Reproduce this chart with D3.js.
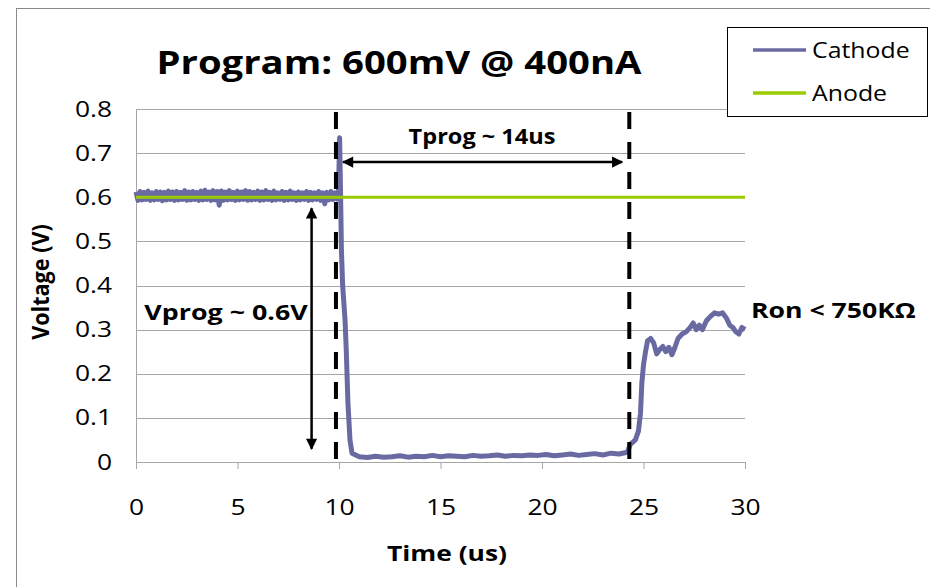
<!DOCTYPE html>
<html><head><meta charset="utf-8">
<script src="https://cdn.jsdelivr.net/npm/d3@7"></script>
<style>body{margin:0;background:#fff}svg{display:block}text{font-family:"Open Sans",Lato,sans-serif}</style>
</head><body><svg id="c" width="930" height="587"></svg>
<script>
const titleText = "Program: 600mV @ 400nA";
const xTicks = [0, 5, 10, 15, 20, 25, 30];
const yTicks = [0, 0.1, 0.2, 0.3, 0.4, 0.5, 0.6, 0.7, 0.8];
const seriesNames = ["Cathode", "Anode"];
const seriesColors = ["#6a6aa3", "#99cc00"];

const cathodeTime = [
 0.0,0.1,0.2,0.3,0.4,0.5,0.6,0.7,0.8,0.9,
 1.0,1.1,1.2,1.3,1.4,1.5,1.6,1.7,1.8,1.9,
 2.0,2.1,2.2,2.3,2.4,2.5,2.6,2.7,2.8,2.9,
 3.0,3.1,3.2,3.3,3.4,3.5,3.6,3.7,3.8,3.9,
 4.0,4.1,4.2,4.3,4.4,4.5,4.6,4.7,4.8,4.9,
 5.0,5.1,5.2,5.3,5.4,5.5,5.6,5.7,5.8,5.9,
 6.0,6.1,6.2,6.3,6.4,6.5,6.6,6.7,6.8,6.9,
 7.0,7.1,7.2,7.3,7.4,7.5,7.6,7.7,7.8,7.9,
 8.0,8.1,8.2,8.3,8.4,8.5,8.6,8.7,8.8,8.9,
 9.0,9.1,9.2,9.3,9.4,9.5,9.6,9.7,9.8,9.9,
 9.97,10.03,10.08,10.12,10.18,10.3,10.36,10.44,10.54,10.64,
 11.0,11.4,11.8,12.2,12.6,13.0,13.4,13.8,14.2,14.6,
 15.0,15.4,15.8,16.2,16.6,17.0,17.4,17.8,18.2,18.6,
 19.0,19.4,19.8,20.2,20.6,21.0,21.4,21.8,22.2,22.6,
 23.0,23.4,23.8,24.2,
 24.35,24.6,24.75,24.85,24.92,25.0,25.1,25.2,25.35,25.5,
 25.65,25.8,25.95,26.1,26.25,26.4,26.55,26.7,26.9,27.1,
 27.3,27.45,27.6,27.75,27.9,28.1,28.3,28.5,28.7,28.9,
 29.1,29.25,29.4,29.55,29.7,29.85,30.0
];
const cathodeVolt = [
 0.612,0.593,0.613,0.594,0.611,0.595,0.614,0.593,0.610,0.594,
 0.613,0.595,0.612,0.592,0.611,0.594,0.614,0.595,0.612,0.593,
 0.613,0.594,0.611,0.595,0.615,0.593,0.612,0.594,0.613,0.595,
 0.611,0.593,0.614,0.594,0.616,0.595,0.612,0.593,0.615,0.594,
 0.613,0.582,0.614,0.593,0.612,0.594,0.615,0.595,0.611,0.593,
 0.614,0.594,0.612,0.595,0.615,0.593,0.613,0.594,0.611,0.595,
 0.614,0.593,0.612,0.594,0.615,0.595,0.611,0.593,0.614,0.594,
 0.610,0.595,0.613,0.593,0.611,0.594,0.614,0.595,0.610,0.593,
 0.612,0.594,0.610,0.595,0.613,0.593,0.611,0.594,0.610,0.595,
 0.613,0.593,0.610,0.585,0.611,0.594,0.613,0.595,0.610,0.596,
 0.598,0.735,0.600,0.480,0.400,0.320,0.250,0.134,0.050,0.020,
 0.012,0.010,0.013,0.011,0.012,0.014,0.011,0.013,0.012,0.015,
 0.012,0.014,0.013,0.012,0.015,0.013,0.014,0.016,0.013,0.015,
 0.014,0.016,0.015,0.017,0.014,0.016,0.018,0.015,0.017,0.019,
 0.016,0.020,0.018,0.022,
 0.040,0.050,0.070,0.110,0.180,0.220,0.250,0.275,0.280,0.270,
 0.245,0.255,0.262,0.250,0.260,0.243,0.260,0.280,0.290,0.295,
 0.305,0.315,0.300,0.310,0.300,0.320,0.330,0.338,0.335,0.338,
 0.325,0.310,0.305,0.295,0.290,0.305,0.300
];
const anodeTime = [0, 30];
const anodeVolt = [0.6, 0.6];

const svg = d3.select("#c");
const x = d3.scaleLinear().domain([0, 30]).range([136, 745]);
const y = d3.scaleLinear().domain([0, 0.8]).range([462, 109]);
const SX = 1.2;

function addText(px, py, str, size, bold, anchor, sx) {
  return svg.append("text").attr("transform", `translate(${px},${py}) scale(${sx},1)`)
    .attr("text-anchor", anchor || "start").attr("font-size", size)
    .attr("font-weight", bold ? "bold" : "normal").attr("fill", "#000").text(str);
}

// outer frame
svg.append("rect").attr("x", 16.5).attr("y", 8.5).attr("width", 1000).attr("height", 1000)
  .attr("fill", "none").attr("stroke", "#898989").attr("stroke-width", 1);

// gridlines
svg.append("g").selectAll("line").data(yTicks.filter(d => d > 0)).join("line")
  .attr("x1", x(0)).attr("x2", x(30)).attr("y1", d => Math.round(y(d)) + 0.5).attr("y2", d => Math.round(y(d)) + 0.5)
  .attr("stroke", "#a6a6a6").attr("stroke-width", 1);

// y axis
const yAxis = svg.append("g").attr("transform", `translate(${x(0)},0)`)
  .call(d3.axisLeft(y).tickValues(yTicks).tickSize(0).tickPadding(24).tickFormat(d => d === 0 ? "0" : d3.format(".1f")(d)));
yAxis.select(".domain").attr("stroke", "#a6a6a6");
yAxis.selectAll("text").attr("font-size", 22).attr("fill", "#000")
  .attr("x", -24 / SX).attr("transform", `scale(${SX},1)`);

// x axis
const xAxis = svg.append("g").attr("transform", `translate(0,${y(0)})`)
  .call(d3.axisBottom(x).tickValues(xTicks).tickSize(7).tickPadding(30).tickFormat(d3.format("d")));
xAxis.select(".domain").attr("stroke", "#a6a6a6");
xAxis.selectAll(".tick line").attr("stroke", "#a6a6a6");
xAxis.selectAll("text").attr("font-size", 22).attr("fill", "#000").attr("transform", `scale(${SX},1)`);

// series
const cathode = cathodeTime.map((t, i) => [t, cathodeVolt[i]]);
const anode = anodeTime.map((t, i) => [t, anodeVolt[i]]);
const line = d3.line().x(d => x(d[0])).y(d => y(d[1]));
svg.append("path").datum(cathode).attr("d", line).attr("fill", "none")
  .attr("stroke", seriesColors[0]).attr("stroke-width", 5).attr("stroke-linejoin", "round");
svg.append("path").datum(anode).attr("d", line).attr("fill", "none")
  .attr("stroke", seriesColors[1]).attr("stroke-width", 3);

// dashed markers
const dashTimes = [9.85, 24.3];
svg.append("g").selectAll("line").data(dashTimes).join("line")
  .attr("x1", d => x(d)).attr("x2", d => x(d)).attr("y1", 112).attr("y2", y(0))
  .attr("stroke", "#000").attr("stroke-width", 4).attr("stroke-dasharray", "17,13");

// arrows
const defs = svg.append("defs");
defs.append("marker").attr("id", "ah").attr("viewBox", "0 0 10 10").attr("refX", 9).attr("refY", 5)
  .attr("markerWidth", 5.5).attr("markerHeight", 4.5).attr("markerUnits", "strokeWidth").attr("orient", "auto-start-reverse")
  .append("path").attr("d", "M0,0 L10,5 L0,10 z").attr("fill", "#000");
svg.append("line").attr("x1", x(10.2)).attr("x2", x(23.95)).attr("y1", 162).attr("y2", 162)
  .attr("stroke", "#000").attr("stroke-width", 2.5).attr("marker-start", "url(#ah)").attr("marker-end", "url(#ah)");
svg.append("line").attr("x1", x(8.65)).attr("x2", x(8.65)).attr("y1", y(0.575)).attr("y2", y(0.03))
  .attr("stroke", "#000").attr("stroke-width", 2.5).attr("marker-start", "url(#ah)").attr("marker-end", "url(#ah)");

// texts
addText(399, 74, titleText, 33, true, "middle", 1.16);
addText(447, 561, "Time (us)", 22, true, "middle", SX);
svg.append("text").attr("transform", "translate(49,282) rotate(-90) scale(1.08,1.2)").attr("text-anchor", "middle")
  .attr("font-size", 20).attr("font-weight", "bold").text("Voltage (V)");
addText(482, 144, "Tprog ~ 14us", 22, true, "middle", 1.07);
addText(226, 320, "Vprog ~ 0.6V", 22, true, "middle", 1.22);
addText(751, 318, "Ron < 750KΩ", 22, true, "start", 1.21);

// legend
const lg = svg.append("g");
lg.append("rect").attr("x", 727.5).attr("y", 27.5).attr("width", 200).attr("height", 89)
  .attr("fill", "#fff").attr("stroke", "#000").attr("stroke-width", 1);
seriesNames.forEach((n, i) => {
  const yy = 50 + i * 43;
  lg.append("line").attr("x1", 753).attr("x2", 806).attr("y1", yy).attr("y2", yy)
    .attr("stroke", seriesColors[i]).attr("stroke-width", 3.5);
  lg.append("text").attr("transform", `translate(812,${yy + 8}) scale(1.13,1)`).attr("font-size", 22).text(n);
});
</script></body></html>
